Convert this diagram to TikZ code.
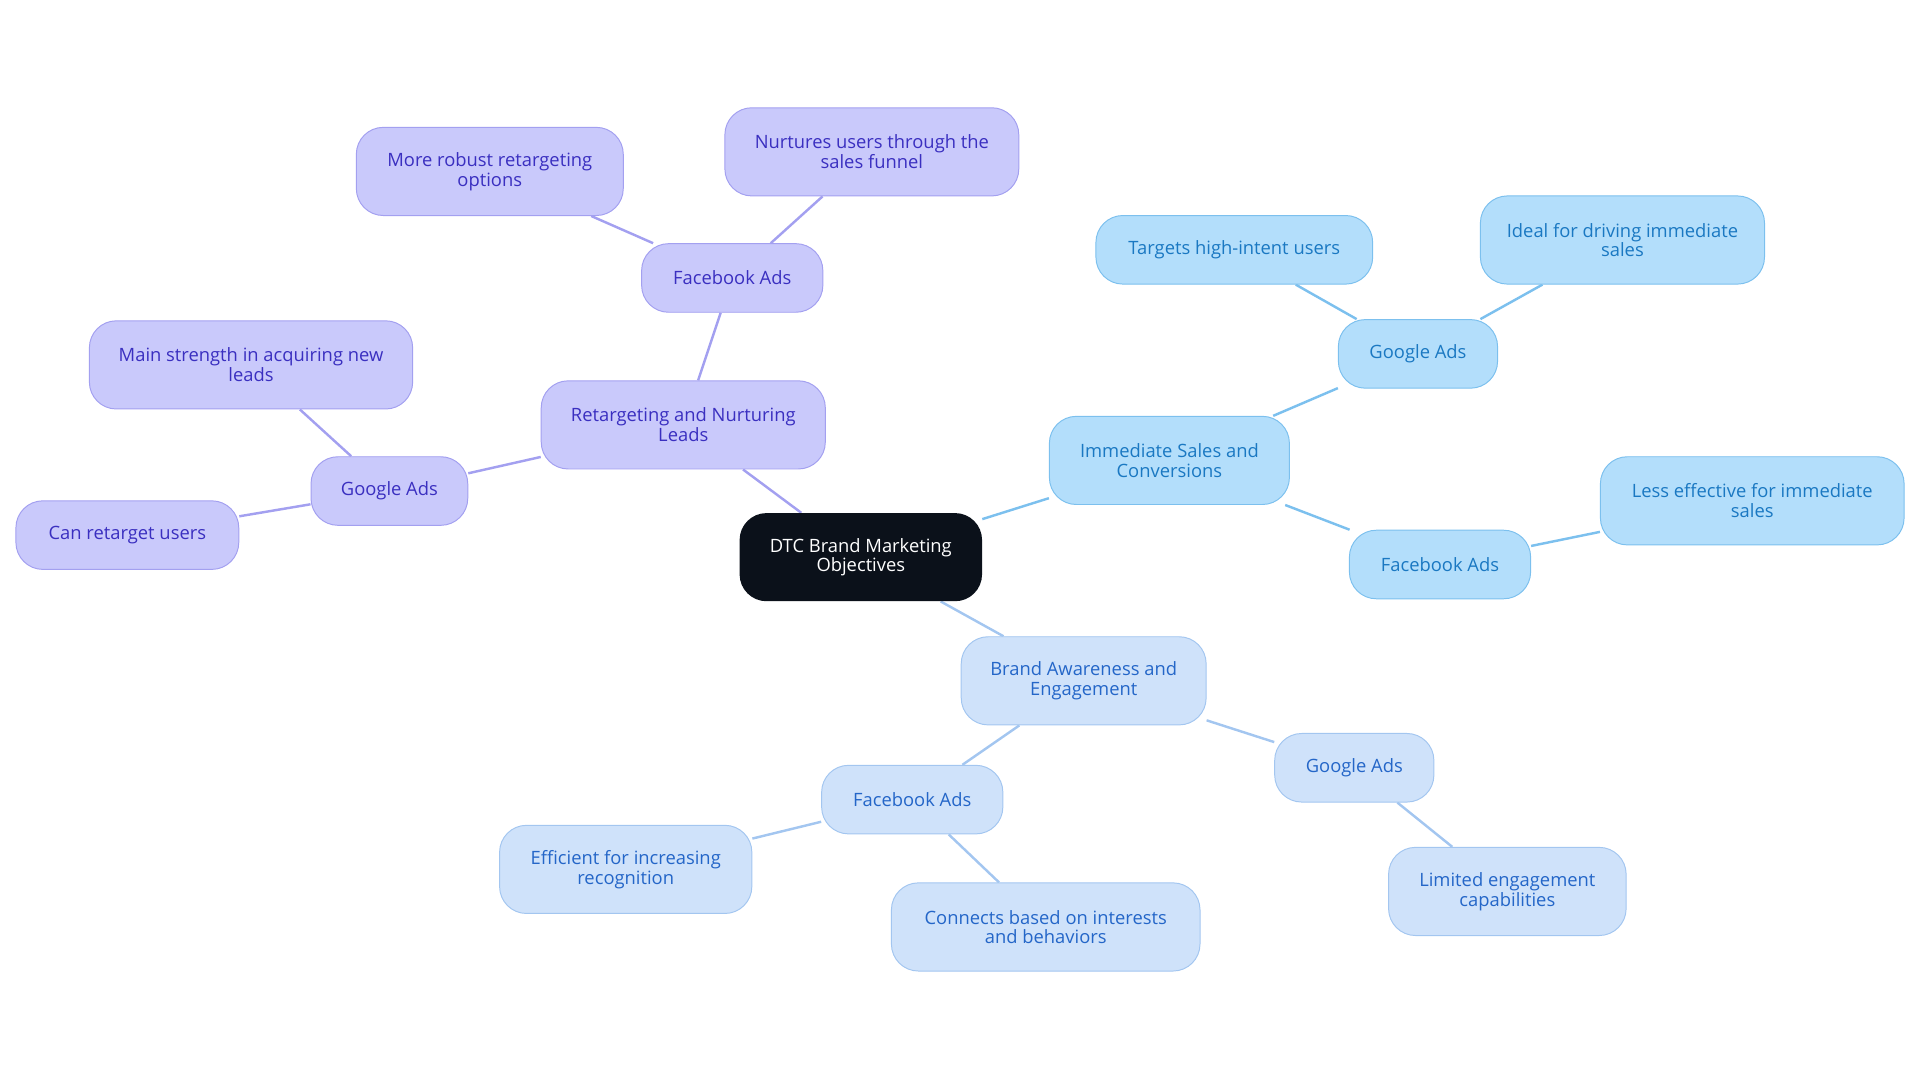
\documentclass[tikz,border=0pt]{standalone}
\usepackage{fontspec}
\setmainfont{Open Sans}
\usetikzlibrary{backgrounds}
\definecolor{rootfill}{HTML}{0B111A}
\definecolor{purfill}{HTML}{C9C9FB}
\definecolor{purline}{HTML}{A3A0F0}
\definecolor{purtext}{HTML}{3A2FC0}
\definecolor{skyfill}{HTML}{B3DEFB}
\definecolor{skyline}{HTML}{7CC0EE}
\definecolor{skytext}{HTML}{1A78C2}
\definecolor{palefill}{HTML}{CFE2FA}
\definecolor{paleline}{HTML}{A3C6F0}
\definecolor{paletext}{HTML}{2466C8}
\begin{document}
\begin{tikzpicture}[
    x=1pt, y=-1pt,
    every node/.style={font=\fontsize{15}{16}\selectfont, align=center, rounded corners=22pt, inner sep=2pt},
    root/.style={fill=rootfill, text=white, minimum width=198pt, minimum height=72pt},
    pur/.style={draw=purline, fill=purfill, text=purtext, line width=0.8pt},
    sky/.style={draw=skyline, fill=skyfill, text=skytext, line width=0.8pt},
    pale/.style={draw=paleline, fill=palefill, text=paletext, line width=0.8pt},
    wide/.style 2 args={minimum width=#1pt, minimum height=#2pt},
    link/.style={line width=2pt}
]
\useasboundingbox (0,0) rectangle (1568,884);
% root
\node[root] (root) at (703,455) {DTC Brand Marketing\\Objectives};
% retargeting branch
\node[pur, wide={232}{72}] (ret) at (558,347) {Retargeting and Nurturing\\Leads};
\node[pur, wide={148}{56}] (retfb) at (598,227) {Facebook Ads};
\node[pur, wide={218}{72}] (retfbA) at (400,140) {More robust retargeting\\options};
\node[pur, wide={240}{72}] (retfbB) at (712,124) {Nurtures users through the\\sales funnel};
\node[pur, wide={128}{56}] (retg) at (318,401) {Google Ads};
\node[pur, wide={264}{72}] (retgA) at (205,298) {Main strength in acquiring new\\leads};
\node[pur, wide={182}{56}] (retgB) at (104,437) {Can retarget users};
% immediate sales branch
\node[sky, wide={196}{72}] (imm) at (955,376) {Immediate Sales and\\Conversions};
\node[sky, wide={130}{56}] (immg) at (1158,289) {Google Ads};
\node[sky, wide={226}{56}] (immgA) at (1008,204) {Targets high-intent users};
\node[sky, wide={232}{72}] (immgB) at (1325,196) {Ideal for driving immediate\\sales};
\node[sky, wide={148}{56}] (immf) at (1176,461) {Facebook Ads};
\node[sky, wide={248}{72}] (immfA) at (1431,409) {Less effective for immediate\\sales};
% brand awareness branch
\node[pale, wide={200}{72}] (brand) at (885,556) {Brand Awareness and\\Engagement};
\node[pale, wide={148}{56}] (brandf) at (745,653) {Facebook Ads};
\node[pale, wide={206}{72}] (brandfA) at (511,710) {Efficient for increasing\\recognition};
\node[pale, wide={252}{72}] (brandfB) at (854,757) {Connects based on interests\\and behaviors};
\node[pale, wide={130}{56}] (brandg) at (1106,627) {Google Ads};
\node[pale, wide={194}{72}] (brandgA) at (1231,728) {Limited engagement\\capabilities};
\begin{scope}[on background layer]
\draw[link, purline] (root) -- (ret) (ret) -- (retfb) (retfb) -- (retfbA) (retfb) -- (retfbB)
    (ret) -- (retg) (retg) -- (retgA) (retg) -- (retgB);
\draw[link, skyline] (root) -- (imm) (imm) -- (immg) (immg) -- (immgA) (immg) -- (immgB)
    (imm) -- (immf) (immf) -- (immfA);
\draw[link, paleline] (root) -- (brand) (brand) -- (brandf) (brandf) -- (brandfA) (brandf) -- (brandfB)
    (brand) -- (brandg) (brandg) -- (brandgA);
\end{scope}
\end{tikzpicture}
\end{document}
